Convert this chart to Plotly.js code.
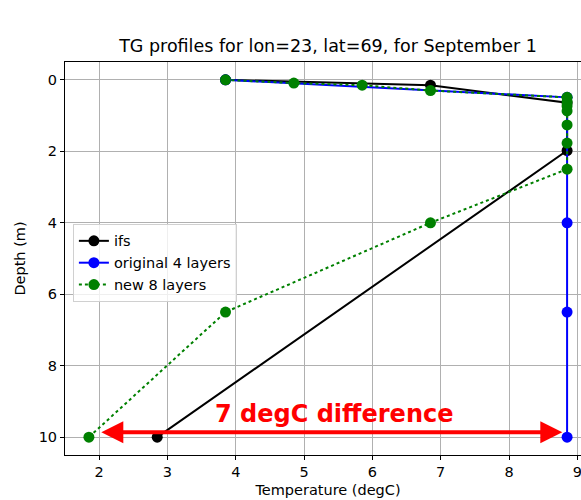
<!DOCTYPE html>
<html>
<head>
<meta charset="utf-8">
<script src="https://cdn.plot.ly/plotly-3.0.1.min.js"></script>
<style>
html,body{margin:0;padding:0;overflow:hidden;background:#fff;}
#chart{width:640px;height:500px;}
</style>
</head>
<body>
<div id="chart"></div>
<script>
const ifsTemp = [3.85, 6.85, 8.85, 8.85, 2.85];
const ifsDepth = [0, 0.15, 0.64, 1.98, 10];
const origTemp = [3.85, 8.85, 8.85, 8.85, 8.85];
const origDepth = [0, 0.49, 4, 6.5, 10];
const newTemp = [3.85, 4.85, 5.85, 6.85, 8.85, 8.85, 8.85, 8.85, 8.85, 8.85, 8.85, 6.85, 3.85, 1.85];
const newDepth = [0, 0.09, 0.15, 0.3, 0.49, 0.61, 0.73, 0.87, 1.26, 1.77, 2.5, 4, 6.5, 10];
const seriesNames = ["ifs", "original 4 layers", "new 8 layers"];
const xTicks = [2, 3, 4, 5, 6, 7, 8, 9];
const yTicks = [0, 2, 4, 6, 8, 10];
const arrowFrom = [2.01, 9.86];
const arrowTo = [8.78, 9.86];
const noteText = "7 degC difference";
const notePos = [5.45, 9.36];

const font = "DejaVu Sans, sans-serif";

const traces = [
  {x: ifsTemp, y: ifsDepth, name: seriesNames[0], mode: "lines+markers",
   line: {color: "#000000", width: 2}, marker: {color: "#000000", size: 11}},
  {x: origTemp, y: origDepth, name: seriesNames[1], mode: "lines+markers",
   line: {color: "#0000ff", width: 2}, marker: {color: "#0000ff", size: 11}},
  {x: newTemp, y: newDepth, name: seriesNames[2], mode: "lines+markers",
   line: {color: "#008000", width: 2, dash: "dot"}, marker: {color: "#008000", size: 11}}
];

const axisCommon = {
  showgrid: true, gridcolor: "#b0b0b0", gridwidth: 1,
  zeroline: false, showline: true, linecolor: "#000", linewidth: 1, mirror: true,
  ticks: "outside", ticklen: 4, tickcolor: "#000",
  tickfont: {family: font, size: 14.5, color: "#000"}
};

const layout = {
  width: 640, height: 500,
  margin: {l: 65, r: 49, t: 62, b: 45},
  paper_bgcolor: "#fff", plot_bgcolor: "#fff",
  font: {family: font, color: "#000"},
  title: {text: "TG profiles for lon=23, lat=69, for September 1",
          font: {family: font, size: 17.5, color: "#000"},
          x: 0.5, xref: "paper", y: 0.908, yref: "container", yanchor: "middle"},
  xaxis: Object.assign({}, axisCommon, {
    range: [1.5, 9.2], tickvals: xTicks,
    title: {text: "Temperature (degC)", font: {family: font, size: 14.5, color: "#000"}, standoff: 5}
  }),
  yaxis: Object.assign({}, axisCommon, {
    range: [10.5, -0.5], tickvals: yTicks,
    title: {text: "Depth (m)", font: {family: font, size: 14.5, color: "#000"}, standoff: 9}
  }),
  showlegend: true,
  legend: {x: 0.015, y: 0.588, xanchor: "left", yanchor: "top",
           bgcolor: "rgba(255,255,255,0.8)", bordercolor: "#d0d0d0", borderwidth: 1,
           font: {family: font, size: 14.5, color: "#000"}, tracegroupgap: 0},
  annotations: [
    {x: arrowTo[0], y: arrowTo[1], ax: arrowFrom[0], ay: arrowFrom[1],
     xref: "x", yref: "y", axref: "x", ayref: "y", text: "",
     showarrow: true, arrowside: "end+start", arrowhead: 2, startarrowhead: 2,
     arrowsize: 1.1, startarrowsize: 1.1, arrowwidth: 4, arrowcolor: "#ff0000",
     standoff: 0, startstandoff: 0},
    {x: notePos[0], y: notePos[1], xref: "x", yref: "y", text: "<b>" + noteText + "</b>",
     showarrow: false, font: {family: font, size: 24, color: "#ff0000"}}
  ]
};

Plotly.newPlot("chart", traces, layout, {displayModeBar: false, staticPlot: true});
</script>
</body>
</html>
